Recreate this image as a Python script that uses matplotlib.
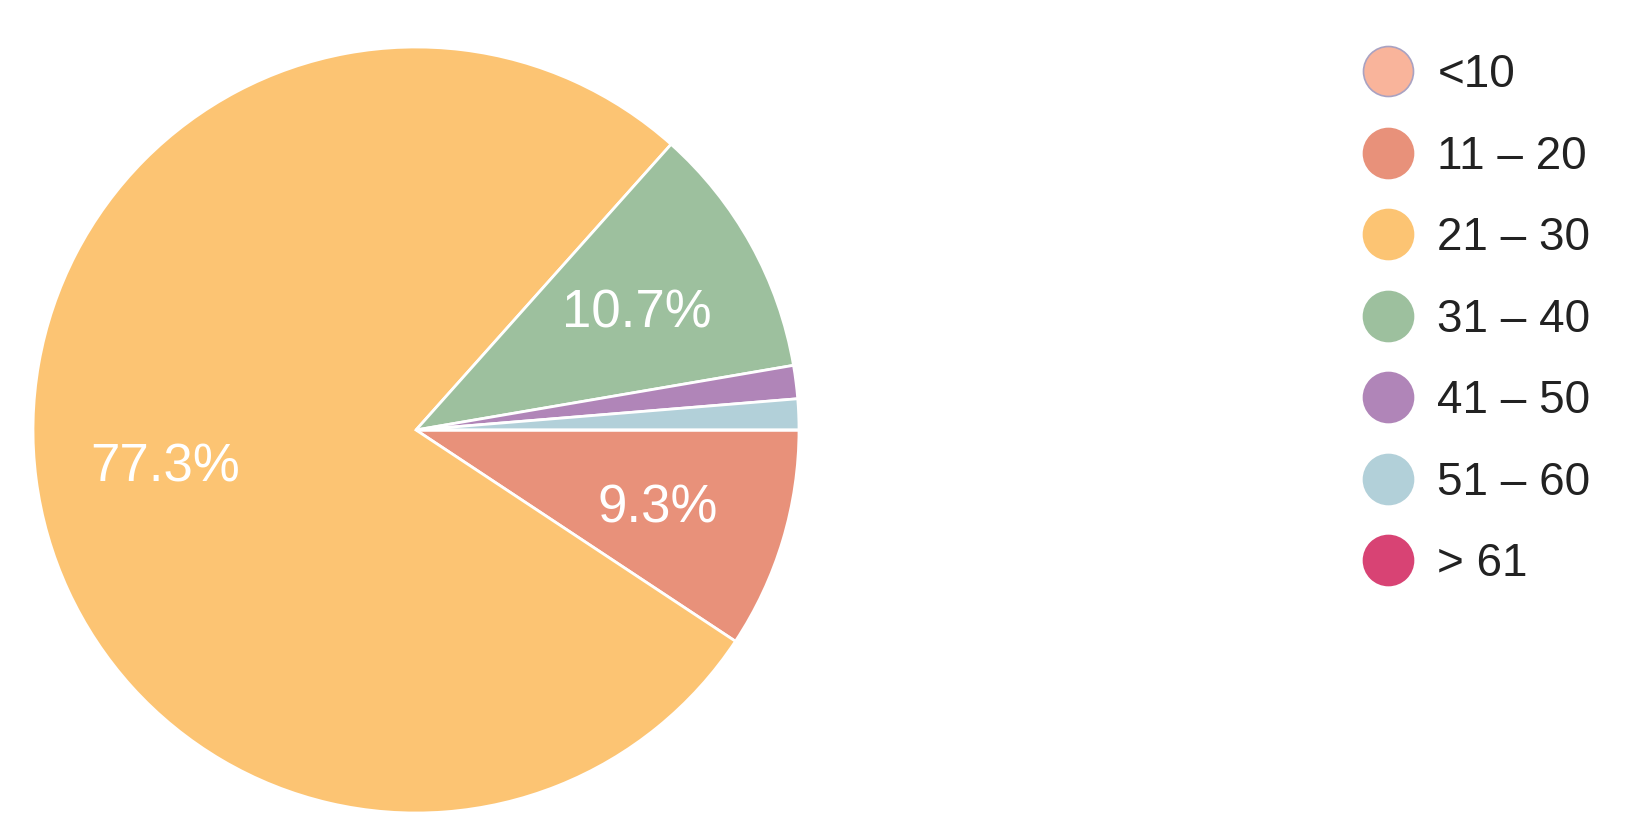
import matplotlib.pyplot as plt
from matplotlib.lines import Line2D

plt.rcParams['font.family'] = ['Liberation Sans', 'DejaVu Sans']

# age groups and share of respondents (%)
age_groups = ["<10", "11 \u2013 20", "21 \u2013 30", "31 \u2013 40", "41 \u2013 50", "51 \u2013 60", "> 61"]
shares = [0.0, 9.3, 77.3, 10.7, 1.4, 1.3, 0.0]
colors = ["#F9B49B", "#E8917A", "#FCC473", "#9DC09E", "#B085B8", "#B2D0D9", "#D84374"]

W, H = 1632, 838
fig = plt.figure(figsize=(W / 100, H / 100), dpi=100)

# pie centre and radius in pixels
cx, cy, R = 416, 430, 383
ax = fig.add_axes([(cx - R) / W, (H - cy - R) / H, 2 * R / W, 2 * R / H])


def pct_label(p):
    return f"{p:.1f}%" if p > 5 else ""


wedges, texts, autotexts = ax.pie(
    shares, colors=colors, startangle=0, counterclock=False,
    autopct=pct_label, pctdistance=0.66, radius=1.0,
    wedgeprops=dict(edgecolor="white", linewidth=2),
    textprops=dict(color="white", fontsize=38),
)
for t in autotexts:
    t.set_verticalalignment("center_baseline")
ax.set_xlim(-1, 1)
ax.set_ylim(-1, 1)
ax.axis("off")

# legend with round markers
handles = []
for i, c in enumerate(colors):
    edge = "#A9A2C2" if i == 0 else c
    handles.append(Line2D([], [], linestyle="none", marker="o", markersize=36,
                          markerfacecolor=c, markeredgecolor=edge, markeredgewidth=1.2))

fig.legend(handles, age_groups, loc="upper left",
           bbox_to_anchor=(1363 / W, 1 - 53 / H), frameon=False,
           fontsize=33, labelcolor="#222222", borderpad=0, borderaxespad=0,
           handlelength=1.1, handletextpad=0.52, labelspacing=0.82)

fig.savefig("out.png", dpi=100, facecolor="white")
